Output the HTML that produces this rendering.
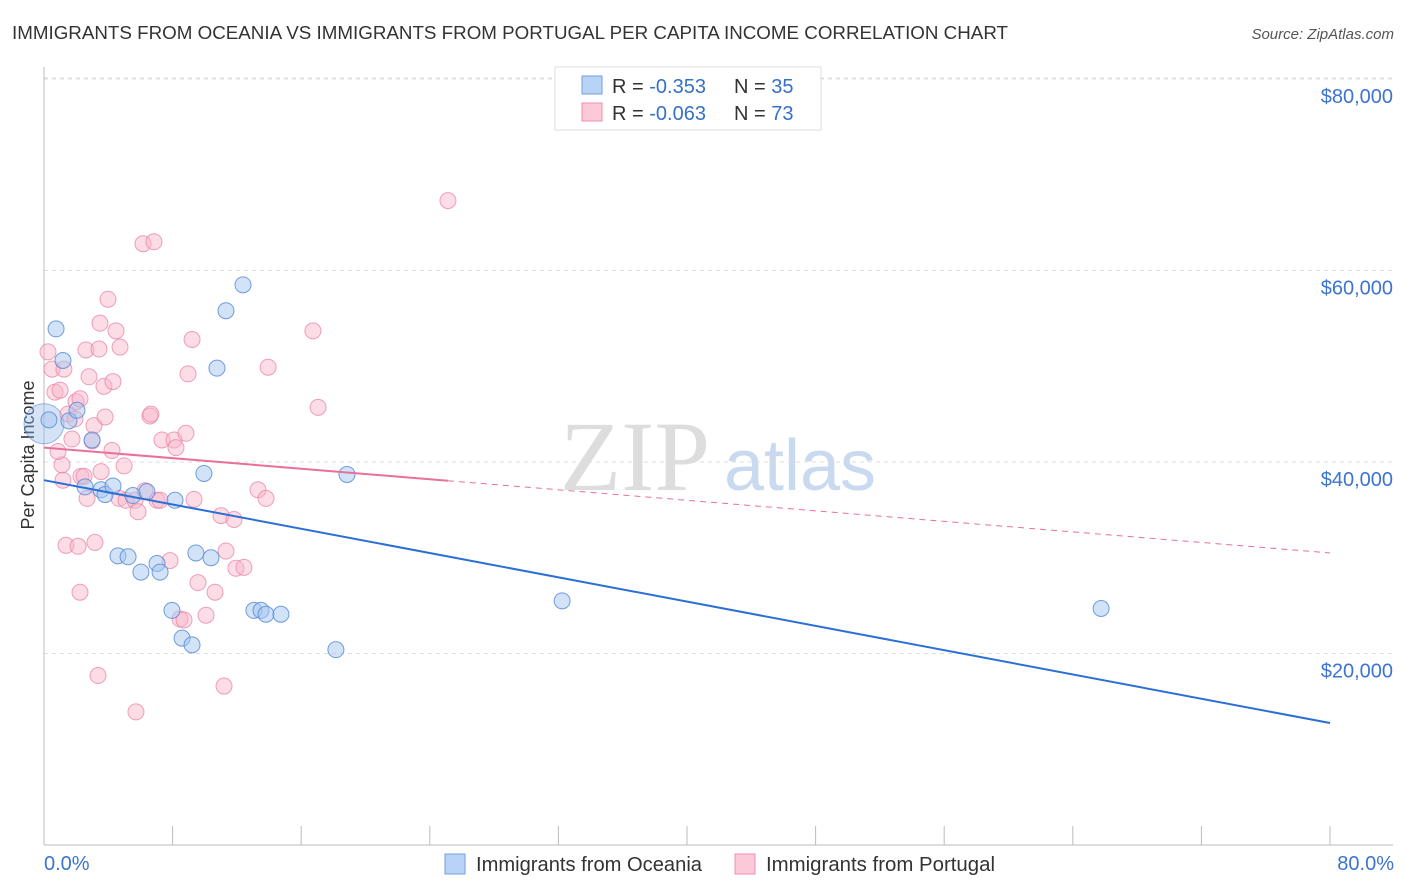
<!DOCTYPE html>
<html><head><meta charset="utf-8"><style>
body{margin:0;background:#fff;font-family:"Liberation Sans",sans-serif;}
svg{display:block}
</style></head><body>
<svg id="chart" width="1406" height="892">
<text x="12" y="39" font-size="18" fill="#333" textLength="996" lengthAdjust="spacingAndGlyphs">IMMIGRANTS FROM OCEANIA VS IMMIGRANTS FROM PORTUGAL PER CAPITA INCOME CORRELATION CHART</text>
<text x="1394" y="39" font-size="15" fill="#555" font-style="italic" text-anchor="end">Source: ZipAtlas.com</text>
<text x="34" y="455" font-size="18" fill="#333" text-anchor="middle" transform="rotate(-90 34 455)">Per Capita Income</text>
<g><text x="635" y="490" font-size="100" fill="#ddd" font-family="Liberation Serif" text-anchor="middle">ZIP</text><text x="800" y="490" font-size="72" fill="#c9daf0" text-anchor="middle">atlas</text></g>
<g id="grid"></g><g id="axes"></g><g id="marks"></g>
<g>
<rect x="555" y="67" width="266" height="63" fill="#fff" stroke="#ddd"/>
<rect x="582" y="76" width="20" height="18" fill="#b8d3f5" stroke="#6f9fe0"/>
<rect x="582" y="103" width="20" height="18" fill="#fcc9d8" stroke="#ee90ae"/>
<text x="612" y="93" font-size="20" fill="#333">R = <tspan fill="#3570c8">-0.353</tspan><tspan x="734">N = </tspan><tspan fill="#3570c8">35</tspan></text>
<text x="612" y="120" font-size="20" fill="#333">R = <tspan fill="#3570c8">-0.063</tspan><tspan x="734">N = </tspan><tspan fill="#3570c8">73</tspan></text>
</g>
<text x="44" y="870" font-size="20" fill="#3c74d0">0.0%</text>
<text x="1394" y="870" font-size="20" fill="#3c74d0" text-anchor="end">80.0%</text>
<g><rect x="445" y="854" width="20" height="20" fill="#b8d3f5" stroke="#6f9fe0"/><text x="476" y="871" font-size="20" fill="#333" textLength="226" lengthAdjust="spacingAndGlyphs">Immigrants from Oceania</text></g>
<g><rect x="735" y="854" width="20" height="20" fill="#fcc9d8" stroke="#ee90ae"/><text x="766" y="871" font-size="20" fill="#333" textLength="229" lengthAdjust="spacingAndGlyphs">Immigrants from Portugal</text></g>
</svg>
<script>
const yTicks=[20000,40000,60000,80000];
const yTickLabels=["$20,000","$40,000","$60,000","$80,000"];
const xTicks=[0,8,16,24,32,40,48,56,64,72,80];
const oceaniaX=[0.75,1.18,0.31,1.55,2.05,2.99,2.55,3.55,3.8,4.29,5.53,6.4,8.15,4.6,5.23,6.03,7.03,7.22,7.96,8.59,9.21,9.45,10.39,9.95,11.32,10.76,12.38,13.06,13.5,13.81,14.74,18.16,18.85,32.23,65.76];
const oceaniaY=[53900,50600,44400,44300,45400,42300,37400,37100,36600,37500,36500,36900,36000,30200,30100,28500,29400,28500,24500,21600,20900,30500,30000,38800,55800,49800,58500,24500,24500,24100,24100,20400,38700,25500,24700];
const portugalX=[0.25,0.5,0.68,1.0,1.12,1.18,1.49,1.37,1.74,1.99,2.12,2.24,2.3,2.49,2.61,2.68,2.8,2.99,3.11,3.17,3.36,3.42,3.48,3.55,3.73,3.8,3.98,4.23,4.29,4.48,4.67,4.73,4.98,5.1,5.66,5.72,5.85,6.16,6.28,6.59,6.65,6.84,7.03,7.22,7.34,7.84,8.09,8.21,8.46,8.71,8.83,8.96,9.21,9.33,9.58,10.08,10.64,11.01,11.2,11.32,11.82,11.94,12.44,13.31,13.81,13.94,16.73,17.05,25.13,2.24,1.93,1.24,0.87];
const portugalY=[51500,49700,47300,47500,39700,38100,45000,31300,42400,46300,31200,26400,38500,38500,51700,36200,48900,42200,43800,31600,17700,51800,54500,39000,47900,44700,57000,41200,48400,53700,36200,52000,39600,36000,36000,13900,34800,62800,37000,44800,45000,63000,36000,36000,42300,29700,42300,41500,23600,23500,43000,49200,52800,36100,27400,24000,26400,34400,16600,30700,34000,28900,29000,37100,36200,49900,53700,45700,67300,46600,44500,49700,41100];
const oceaniaTrend=[38100,12740];
const portugalTrend=[41500,30500];
const S='http://www.w3.org/2000/svg';
const X=v=>44+v*16.075, Y=v=>845-v*191.5/20000;
function el(t,a,p){const e=document.createElementNS(S,t);for(const k in a)e.setAttribute(k,a[k]);p.appendChild(e);return e;}
const grid=document.getElementById('grid'),axes=document.getElementById('axes'),marks=document.getElementById('marks');
yTicks.forEach((t,i)=>{
const g=el('line',{x1:44,x2:1393,y1:Y(t),y2:Y(t),stroke:'#ddd','stroke-dasharray':'4 4'},grid);


const tx=el('text',{x:1393,y:Y(t)+24,'font-size':20,fill:'#3c74d0','text-anchor':'end'},axes);
tx.textContent=yTickLabels[i];


});
const gtop=el('line',{x1:44,x2:1393,y1:78,y2:78,stroke:'#ddd','stroke-dasharray':'4 4'},grid);


const ya=el('line',{x1:44,x2:44,y1:67,y2:845,stroke:'#bbb'},axes);


const xa=el('line',{x1:44,x2:1393,y1:845,y2:845,stroke:'#bbb'},axes);


xTicks.forEach(t=>{
const tk=el('line',{x1:X(t),x2:X(t),y1:826,y2:845,stroke:'#bbb'},axes);


});
const big=el('circle',{cx:X(0),cy:Y(44000),r:20,fill:'rgba(150,185,235,0.4)',stroke:'rgba(90,140,215,0.6)'},marks);


portugalX.forEach((x,i)=>{
const c=el('circle',{cx:X(x),cy:Y(portugalY[i]),r:8,fill:'rgba(248,180,200,0.45)',stroke:'rgba(232,130,165,0.75)'},marks);


});
oceaniaX.forEach((x,i)=>{
const c=el('circle',{cx:X(x),cy:Y(oceaniaY[i]),r:8,fill:'rgba(165,198,240,0.5)',stroke:'rgba(80,135,215,0.8)'},marks);


});
const ob=(oceaniaTrend[1]-oceaniaTrend[0])/80;
const bl=el('line',{x1:X(0),y1:Y(oceaniaTrend[0]),x2:X(80),y2:Y(oceaniaTrend[1]),stroke:'#2b6fd6','stroke-width':2},marks);


const pb=(portugalTrend[1]-portugalTrend[0])/80;
const pxMax=Math.max(...portugalX);
const pl=el('line',{x1:X(0),y1:Y(portugalTrend[0]),x2:X(pxMax),y2:Y(portugalTrend[0]+pb*pxMax),stroke:'#e8709a','stroke-width':2},marks);


const pd=el('line',{x1:X(pxMax),y1:Y(portugalTrend[0]+pb*pxMax),x2:X(80),y2:Y(portugalTrend[1]),stroke:'#e8709a','stroke-width':1,'stroke-dasharray':'6 5'},marks);


</script>
</body></html>
